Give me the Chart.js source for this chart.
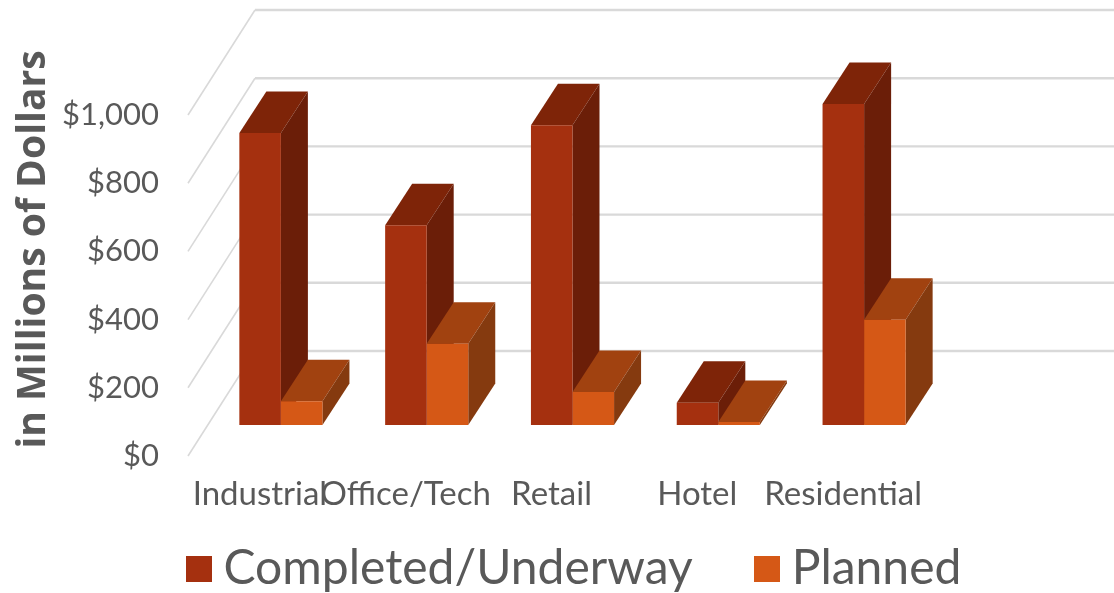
<!DOCTYPE html>
<html>
<head>
<meta charset="utf-8">
<title>Projects by type</title>
<script src="https://cdn.jsdelivr.net/npm/chart.js@4"></script>
<style>
  html, body { margin: 0; padding: 0; background: #fff; }
  #wrap { width: 1114px; height: 593px; position: relative; overflow: hidden; }
</style>
</head>
<body>
<div id="wrap"><canvas id="chart"></canvas></div>
<script>
const categories = ["Industrial", "Office/Tech", "Retail", "Hotel", "Residential"];
const completed = [856, 586, 879, 65, 941];
const planned = [70, 238, 97, 9, 309];
const yTicks = [0, 200, 400, 600, 800, 1000];

const textColor = "#595959";
const gridColor = "#d9d9d9";
const fontName = "Lato";

// faces of each series: front, top, side
const faces = [
  { front: "#a5300f", top: "#7e2408", side: "#6b1e08" },
  { front: "#d55816", top: "#a14210", side: "#853a0f" }
];

// depth of one bar, and of the whole floor
const barDx = 27, barDy = 41.5;
const wallLeft = 188, wallBack = 255, wallFrontDrop = 31, wallBackRise = 74;

const legendSize = 48, legendGap = 74;

const poly = (ctx, pts, color) => {
  ctx.fillStyle = color;
  ctx.beginPath();
  pts.forEach((p, i) => i ? ctx.lineTo(p[0], p[1]) : ctx.moveTo(p[0], p[1]));
  ctx.closePath();
  ctx.fill();
};

// square legend marker, a canvas so it can be wider than its slot in the legend row
const marker = color => {
  const c = document.createElement("canvas");
  c.width = c.height = 26;
  const g = c.getContext("2d");
  g.fillStyle = color;
  g.fillRect(0, 0, 26, 26);
  return c;
};

const depthPlugin = {
  id: "depth",
  afterLayout(chart) {
    const lg = chart.legend;
    lg.left = 198.5 - legendGap;
    lg.right = lg.left + 1200;
    lg.top = 569 - legendSize / 2 - legendGap;
    // x labels are clipped to the scale box, give them the room down to the legend
    chart.scales.x.bottom = chart.height;
    // axis title is a few px above the middle of the axis
    chart.scales.y.top -= 10;
  },
  beforeDatasetsDraw(chart) {
    const { ctx, scales } = chart;
    ctx.save();
    // back wall lines and the diagonals running to the front
    ctx.strokeStyle = gridColor;
    yTicks.forEach(v => {
      const py = scales.y.getPixelForValue(v);
      ctx.lineWidth = 1.6;
      ctx.beginPath();
      ctx.moveTo(wallLeft, py + wallFrontDrop);
      ctx.lineTo(wallBack, py - wallBackRise);
      ctx.stroke();
      ctx.lineWidth = 2.4;
      ctx.beginPath();
      ctx.moveTo(wallBack, py - wallBackRise);
      ctx.lineTo(chart.width, py - wallBackRise);
      ctx.stroke();
    });
    // top and side of the bars, the library paints the front on top
    chart.data.datasets.forEach((ds, i) => {
      chart.getDatasetMeta(i).data.forEach(bar => {
        const l = bar.x - bar.width / 2, r = bar.x + bar.width / 2;
        poly(ctx, [[l, bar.y], [r, bar.y], [r + barDx, bar.y - barDy], [l + barDx, bar.y - barDy]], faces[i].top);
        poly(ctx, [[r, bar.y], [r + barDx, bar.y - barDy], [r + barDx, bar.base - barDy], [r, bar.base]], faces[i].side);
      });
    });
    ctx.restore();
  }
};

new Chart(document.getElementById("chart"), {
  type: "bar",
  data: {
    labels: categories,
    datasets: [
      { label: "Completed/Underway", data: completed, backgroundColor: faces[0].front },
      { label: "Planned", data: planned, backgroundColor: faces[1].front }
    ]
  },
  options: {
    responsive: true,
    maintainAspectRatio: false,
    animation: false,
    layout: { padding: { top: 84, right: 177 } },
    datasets: { bar: { barPercentage: 1, categoryPercentage: 0.57 } },
    plugins: {
      tooltip: { enabled: false },
      legend: {
        position: "bottom",
        align: "start",
        labels: {
          usePointStyle: true, pointStyleWidth: 1, boxHeight: 26, padding: legendGap, color: textColor,
          font: { family: fontName, size: legendSize },
          generateLabels: chart => Chart.defaults.plugins.legend.labels.generateLabels(chart)
            .map((item, i) => ({ ...item, pointStyle: marker(faces[i].front) }))
        }
      }
    },
    scales: {
      x: {
        grid: { display: false, drawTicks: false },
        border: { display: false },
        afterFit: s => { s.height = 168 - s.chart.legend.height; },
        ticks: {
          color: textColor, padding: 50, labelOffset: -21, maxRotation: 0, autoSkip: false,
          font: { family: fontName, size: 33 }
        }
      },
      y: {
        min: 0, max: 1000,
        grid: { display: false, drawTicks: false },
        border: { display: false },
        afterFit: s => { s.width = 208; },
        title: {
          display: true, text: "in Millions of Dollars", color: textColor,
          font: { family: "Open Sans", size: 39, weight: "bold" }, padding: { top: 10, bottom: 0 }
        },
        ticks: {
          color: textColor, padding: 49, labelOffset: 31, stepSize: 200,
          font: { family: fontName, size: 31 },
          callback: v => "$" + v.toLocaleString("en-US")
        }
      }
    }
  },
  plugins: [depthPlugin]
});
</script>
</body>
</html>
